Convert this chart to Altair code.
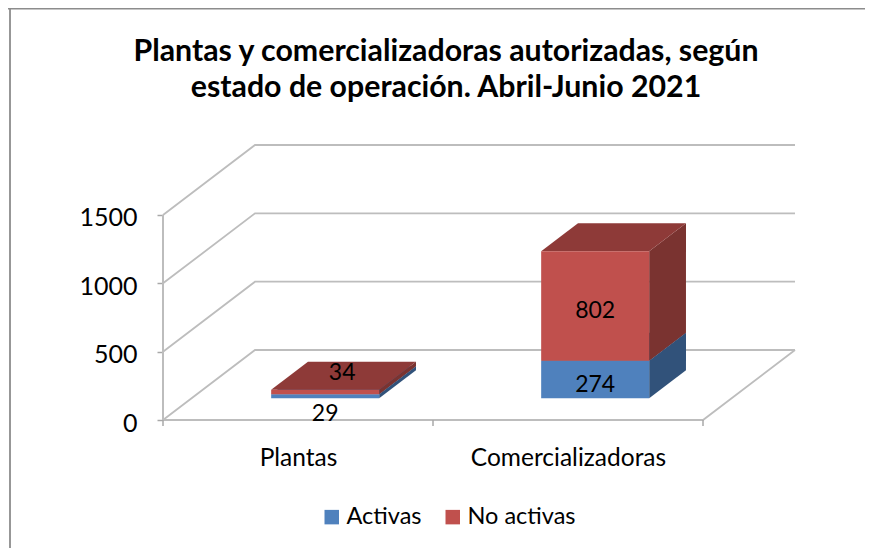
import altair as alt
import pandas as pd

TITLE = ["Plantas y comercializadoras autorizadas, según", "estado de operación. Abril-Junio 2021"]
categories = ["Plantas", "Comercializadoras"]
series = ["Activas", "No activas"]
activas = [29, 274]
no_activas = [34, 802]
y_ticks = [0, 500, 1000, 1500]
x_ticks = [0, 1, 2]
front_colors = ["#4F81BD", "#C0504D"]
side_colors = ["#31527A", "#7A3330"]
top_colors = ["#3A6190", "#8E3A38"]
grid_color = "#BDBDBD"
text_color = "#000000"
FONT = "Lato"
label_nudges = {("Plantas", "Activas"): (0, 18), ("Plantas", "No activas"): (17, -19),
                ("Comercializadoras", "Activas"): (0, 5), ("Comercializadoras", "No activas"): (0, 5)}

# oblique projection of the 3-D chart box onto the flat x/y scales
W, H = 633, 275
PX_CAT = 270.0
PX_VAL = 0.13667
XMAX = W / PX_CAT
YMAX = H / PX_VAL
DX = 92 / PX_CAT
DY = 70 / PX_VAL
D0, D1 = 0.31, 0.71
BAR0, BAR1 = 0.295, 0.695


def proj(c, d, v):
    return c + d * DX, v + d * DY


xs = alt.Scale(domain=[0, XMAX], nice=False, zero=False)
ys = alt.Scale(domain=[0, YMAX], nice=False, zero=False)

# --- grid -----------------------------------------------------------------
grid = []
for v in y_ticks:
    for o, (c, d) in enumerate([(0, 0), (0, 1), (2, 1)]):
        x, y = proj(c, d, v)
        grid.append({"k": f"g{v}", "x": x, "y": y, "o": o})
for o, (c, d) in enumerate([(0, 0), (2, 0), (2, 1)]):
    x, y = proj(c, d, 0)
    grid.append({"k": "floor", "x": x, "y": y, "o": o})
grid_layer = alt.Chart(pd.DataFrame(grid)).mark_line(color=grid_color, strokeWidth=1.8).encode(
    x=alt.X("x:Q", scale=xs,
            axis=alt.Axis(values=[0.5, 1.5], title=None, ticks=False, domain=False, grid=False,
                          labelExpr="datum.value < 1 ? 'Plantas' : 'Comercializadoras'",
                          labelFont=FONT, labelFontSize=24.5, labelColor=text_color, labelPadding=26,
                          labelFlush=False, labelLimit=400, labelOverlap=False)),
    y=alt.Y("y:Q", scale=ys,
            axis=alt.Axis(values=y_ticks, title=None, domain=False, grid=False, tickSize=6,
                          tickColor="#A8A8A8", tickWidth=1.5, format="d", labelOffset=3,
                          labelFont=FONT, labelFontSize=25, labelColor=text_color, labelPadding=20)),
    detail="k:N", order="o:Q",
)

axis_rule = alt.Chart(pd.DataFrame({"y": [0], "y2": [1500], "x": [0]})).mark_rule(
    color="#BDBDBD", strokeWidth=2).encode(
    x=alt.X("x:Q", scale=xs), y=alt.Y("y:Q", scale=ys), y2="y2:Q")

tick_rule = alt.Chart(pd.DataFrame({"x": x_ticks, "y": [0] * len(x_ticks)})).mark_rule(
    color="#A8A8A8", strokeWidth=1.5).encode(
    x=alt.X("x:Q", scale=xs), y=alt.Y("y:Q", scale=ys), y2=alt.value(H + 6))

# --- bars -----------------------------------------------------------------
layers = [grid_layer, axis_rule, tick_rule]
front_rows, label_rows = [], []
for ci, cat in enumerate(categories):
    base = 0
    for si, (name, val) in enumerate(zip(series, [activas[ci], no_activas[ci]])):
        lo, hi = base, base + val
        base = hi
        # side face
        xa, ya = proj(ci + BAR1, D0, lo)
        xb, yb = proj(ci + BAR1, D1, lo)
        side = pd.DataFrame({"x": [xa, xb], "y": [ya, yb],
                             "y2": [ya + val, yb + val]})
        layers.append(alt.Chart(side).mark_area(color=side_colors[si], opacity=1).encode(
            x=alt.X("x:Q", scale=xs), y=alt.Y("y:Q", scale=ys), y2="y2:Q"))
        # top face
        xa1, yt0 = proj(ci + BAR0, D0, hi)
        xa2, _ = proj(ci + BAR1, D0, hi)
        xb1, yt1 = proj(ci + BAR0, D1, hi)
        xb2, _ = proj(ci + BAR1, D1, hi)
        top = pd.DataFrame({"y": [yt0, yt1], "x": [xa1, xb1], "x2": [xa2, xb2]})
        layers.append(alt.Chart(top).mark_area(color=top_colors[si], orient="horizontal", opacity=1).encode(
            y=alt.Y("y:Q", scale=ys), x=alt.X("x:Q", scale=xs), x2="x2:Q"))
        # front face
        x0, y0 = proj(ci + BAR0, D0, lo)
        x1, y1 = proj(ci + BAR1, D0, hi)
        front_rows.append({"x": x0, "x2": x1, "y": y0, "y2": y1, "serie": name})
        label_rows.append({"x": (x0 + x1) / 2, "y": (y0 + y1) / 2, "t": str(val),
                           "nudge": label_nudges[(cat, name)]})

front = alt.Chart(pd.DataFrame(front_rows)).mark_rect(opacity=1).encode(
    x=alt.X("x:Q", scale=xs), x2="x2:Q", y=alt.Y("y:Q", scale=ys), y2="y2:Q",
    color=alt.Color("serie:N", scale=alt.Scale(domain=series, range=front_colors),
                    legend=alt.Legend(orient="none", legendX=157, legendY=360, direction="horizontal",
                                      title=None, symbolType="square", symbolSize=210,
                                      symbolStrokeWidth=0, labelFont=FONT, labelFontSize=23.5,
                                      labelColor=text_color, labelOffset=3, columnPadding=19,
                                      symbolOpacity=1)))
layers.append(front)

for r in label_rows:
    dx, dy = r["nudge"]
    layers.append(alt.Chart(pd.DataFrame([{"x": r["x"], "y": r["y"], "t": r["t"]}])).mark_text(
        font=FONT, fontSize=23, color=text_color, dx=dx, dy=dy, baseline="middle").encode(
        x=alt.X("x:Q", scale=xs), y=alt.Y("y:Q", scale=ys), text="t:N"))

# --- title as centred text lines -------------------------------------------
for line, ypos in zip(TITLE, [-93, -57]):
    layers.append(alt.Chart(pd.DataFrame({"t": [line]})).mark_text(
        font=FONT, fontSize=30.3, fontWeight="bold", color=text_color, baseline="middle", align="center").encode(
        x=alt.value(283), y=alt.value(ypos), text="t:N"))

# --- outer frame ----------------------------------------------------------
frame_top = alt.Chart(pd.DataFrame({"a": [0]})).mark_rule(color="#8C8C8C", strokeWidth=1.8).encode(
    x=alt.value(-155), x2=alt.value(702), y=alt.value(-136.5))
frame_left = alt.Chart(pd.DataFrame({"a": [0]})).mark_rule(color="#8C8C8C", strokeWidth=1.8).encode(
    x=alt.value(-153), y=alt.value(-137), y2=alt.value(403))
layers += [frame_top, frame_left]

chart = alt.layer(*layers).properties(
    width=W, height=H, background="white",
    autosize=alt.AutoSizeParams(type="none"),
    padding={"left": 155, "top": 137, "right": 69, "bottom": 128},
).configure_view(stroke=None)

chart.save("out.html", embed_options={"renderer": "svg", "actions": False})
